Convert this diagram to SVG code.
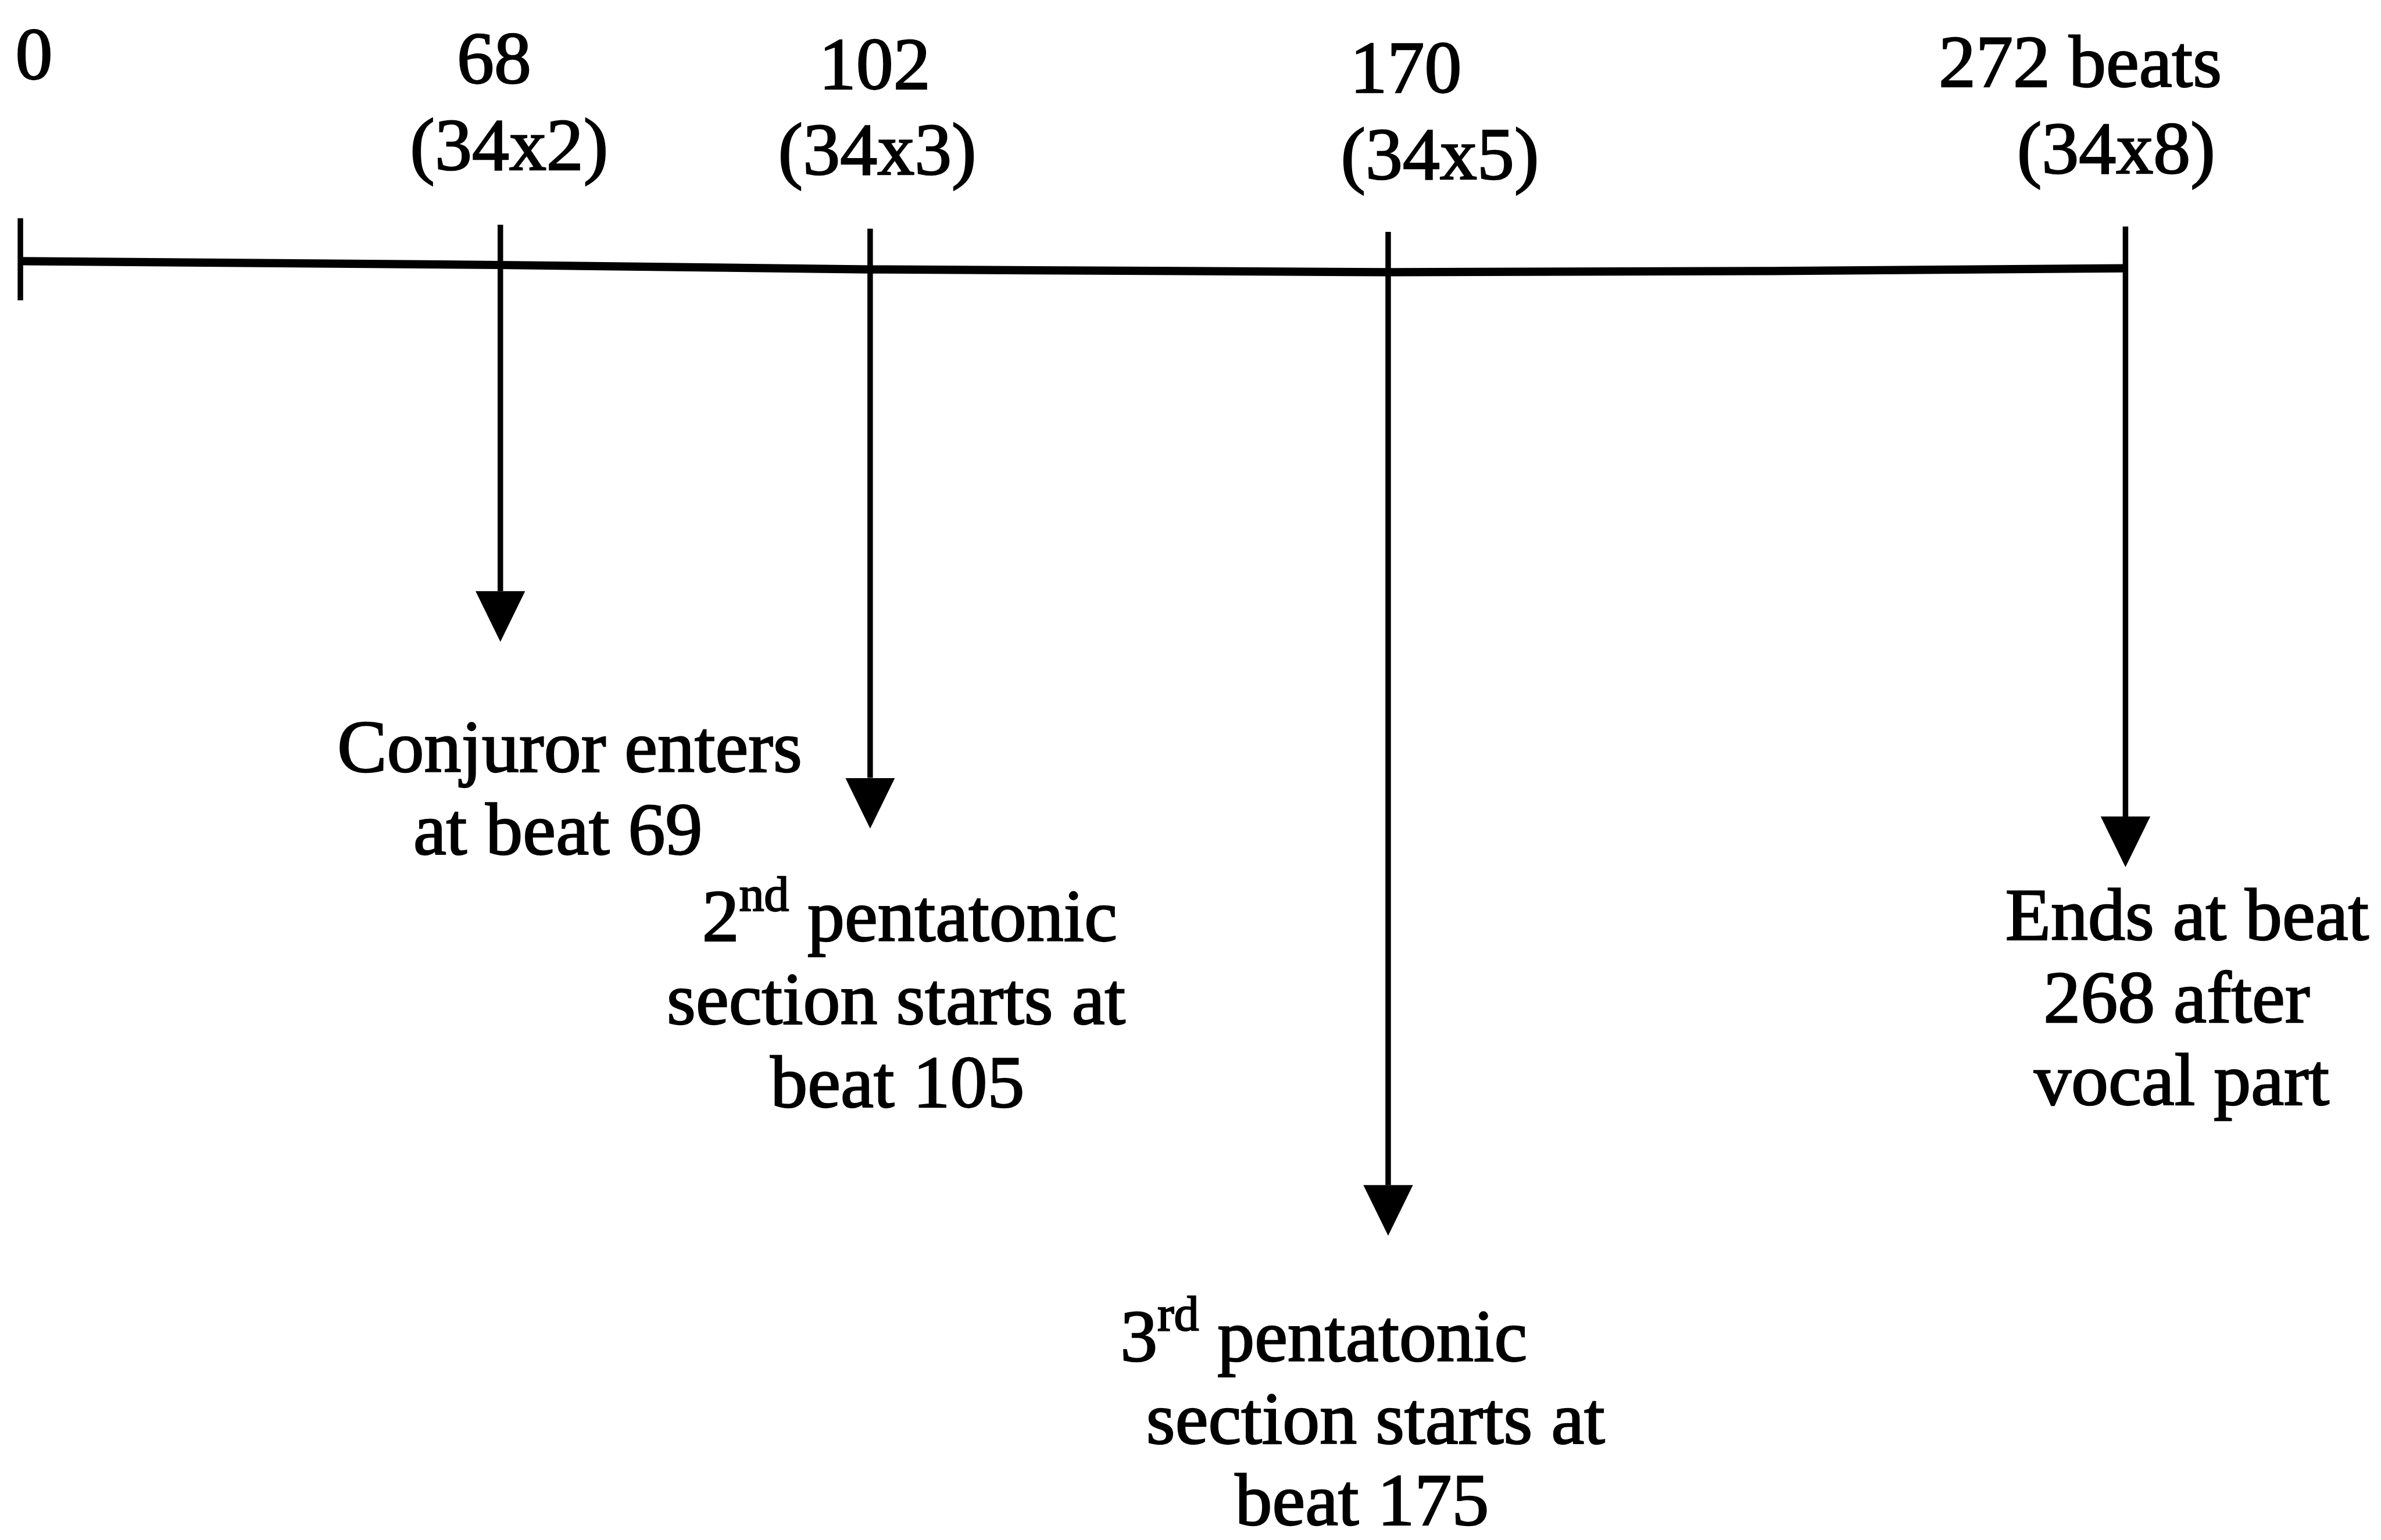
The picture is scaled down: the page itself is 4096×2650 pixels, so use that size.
<svg xmlns="http://www.w3.org/2000/svg" width="4096" height="2650" viewBox="0 0 4096 2650">
<defs>
<style>
.t{font-family:"Liberation Serif","Times New Roman",serif;font-size:135px;fill:#000;stroke:#000;stroke-width:2.5px}
.sup{font-size:90px}
.ln{stroke:#000;fill:none}
</style>
<marker id="ah" markerUnits="userSpaceOnUse" viewBox="0 0 92 90" refX="0" refY="45" markerWidth="92" markerHeight="90" orient="auto">
<path d="M0,0 L92,45 L0,90 Z" fill="#000"/>
</marker>
</defs>
<rect x="0" y="0" width="4096" height="2650" fill="#fff"/>
<g transform="scale(0.948)">
<g id="connectors">
<polyline class="ln" stroke-width="15" stroke-linejoin="round" points="37,474 908,481 1580,489 2519,494 3200,492 3857,487"/>
<line class="ln" stroke-width="10" x1="37" y1="396" x2="37" y2="545"/>
<line class="ln" stroke-width="10" x1="908" y1="408" x2="908" y2="1073" marker-end="url(#ah)"/>
<line class="ln" stroke-width="10" x1="1579" y1="415" x2="1579" y2="1412" marker-end="url(#ah)"/>
<line class="ln" stroke-width="10" x1="2519" y1="421" x2="2519" y2="2151" marker-end="url(#ah)"/>
<line class="ln" stroke-width="10" x1="3857" y1="411" x2="3857" y2="1482" marker-end="url(#ah)"/>
</g>
<g id="tick-0">
<text class="t" x="28" y="143">0</text>
</g>
<g id="tick-68">
<text class="t" x="829" y="151">68</text>
<text class="t" x="744" y="308">(34x2)</text>
</g>
<g id="tick-102">
<text class="t" x="1486" y="161">102</text>
<text class="t" x="1412" y="316">(34x3)</text>
</g>
<g id="tick-170">
<text class="t" x="2450" y="168">170</text>
<text class="t" x="2433" y="325">(34x5)</text>
</g>
<g id="tick-272">
<text class="t" x="3518" y="157">272 beats</text>
<text class="t" x="3660" y="314">(34x8)</text>
</g>
<g id="event-conjuror">
<text class="t" x="612" y="1401">Conjuror enters</text>
<text class="t" x="750" y="1551">at beat 69</text>
</g>
<g id="event-2nd">
<text class="t" x="1274" y="1708">2<tspan class="sup" dy="-55">nd</tspan><tspan dy="55"> pentatonic</tspan></text>
<text class="t" x="1210" y="1859">section starts at</text>
<text class="t" x="1398" y="2010">beat 105</text>
</g>
<g id="event-3rd">
<text class="t" x="2033" y="2470">3<tspan class="sup" dy="-55">rd</tspan><tspan dy="55"> pentatonic</tspan></text>
<text class="t" x="2080" y="2620">section starts at</text>
<text class="t" x="2241" y="2768">beat 175</text>
</g>
<g id="event-end">
<text class="t" x="3639" y="1706">Ends at beat</text>
<text class="t" x="3708" y="1856">268 after</text>
<text class="t" x="3691" y="2005">vocal part</text>
</g>
</g>
</svg>
